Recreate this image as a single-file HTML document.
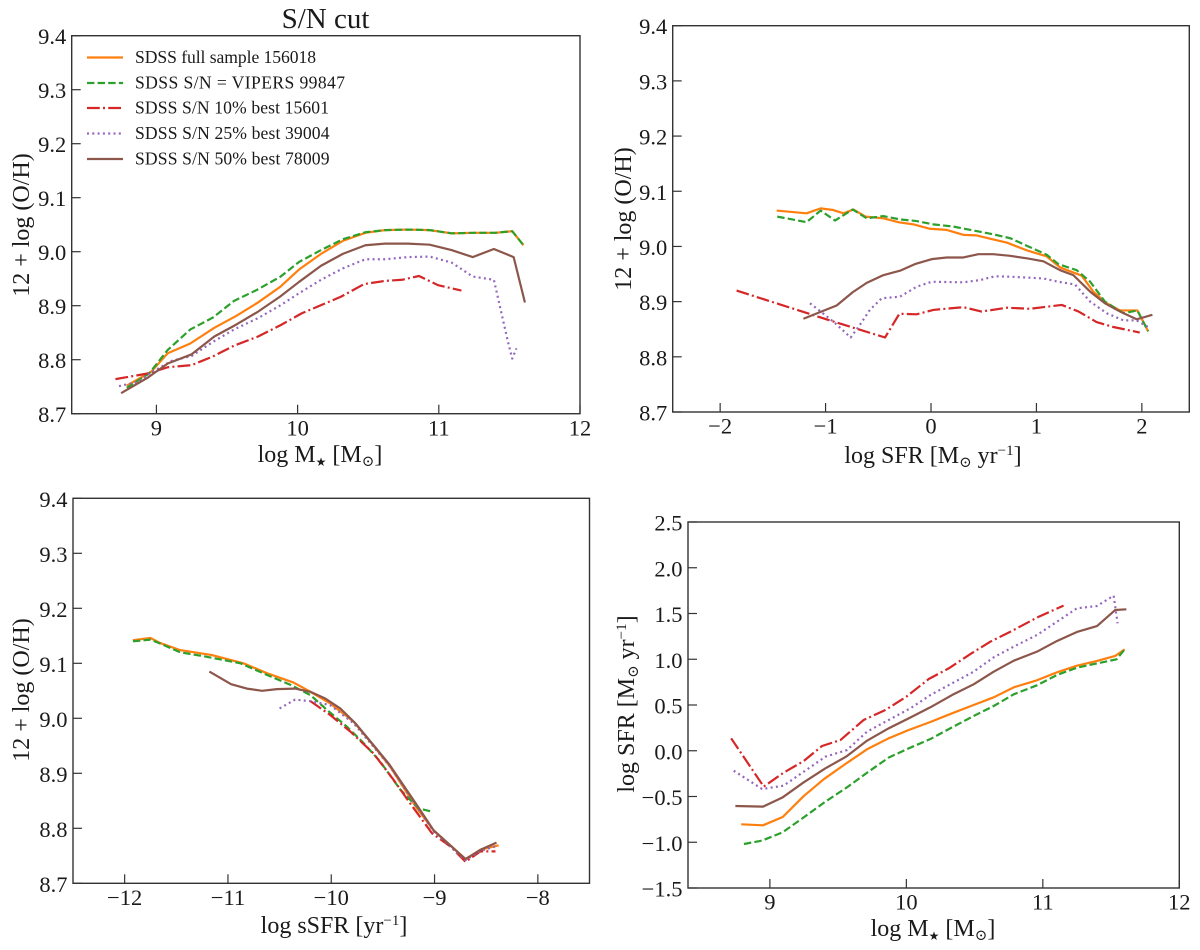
<!DOCTYPE html>
<html lang="en">
<head>
<meta charset="utf-8">
<title>S/N cut</title>
<style>
html,body{margin:0;padding:0;background:#fff;}
#figure{display:block;width:1200px;height:950px;font-family:"Liberation Serif","DejaVu Serif",serif;fill:#1a1a1a;}
.tick-label{font-size:22.5px;}
.axis-label{font-size:24px;text-anchor:middle;}
.legend-text{font-size:17.6px;}
.sub{font-size:15px;}
.sub-star{font-size:12px;}
</style>
</head>
<body>
<svg id="figure" xmlns="http://www.w3.org/2000/svg" width="1200" height="950" viewBox="0 0 1200 950">
  <g id="panel-mass-metal"></g>
  <g id="panel-sfr-metal"></g>
  <g id="panel-ssfr-metal"></g>
  <g id="panel-mass-sfr"></g>

  <text x="325.5" y="28" font-size="29" text-anchor="middle">S/N cut</text>

  <text class="axis-label" x="320" y="462">log M<tspan class="sub-star" dy="4">★</tspan><tspan dy="-4"> [M</tspan><tspan class="sub" dy="4">⊙</tspan><tspan dy="-4">]</tspan></text>
  <text class="axis-label" x="933" y="463">log SFR [M<tspan class="sub" dy="4">⊙</tspan><tspan dy="-4"> yr</tspan><tspan class="sub" dy="-8">−1</tspan><tspan dy="8">]</tspan></text>
  <text class="axis-label" x="334" y="933">log sSFR [yr<tspan class="sub" dy="-8">−1</tspan><tspan dy="8">]</tspan></text>
  <text class="axis-label" x="933" y="936">log M<tspan class="sub-star" dy="4">★</tspan><tspan dy="-4"> [M</tspan><tspan class="sub" dy="4">⊙</tspan><tspan dy="-4">]</tspan></text>

  <text class="axis-label" transform="translate(29 225) rotate(-90)">12 + log (O/H)</text>
  <text class="axis-label" transform="translate(631 219) rotate(-90)">12 + log (O/H)</text>
  <text class="axis-label" transform="translate(29 690) rotate(-90)">12 + log (O/H)</text>
  <text class="axis-label" transform="translate(634 704) rotate(-90)">log SFR [M<tspan class="sub" dy="4">⊙</tspan><tspan dy="-4"> yr</tspan><tspan class="sub" dy="-8">−1</tspan><tspan dy="8">]</tspan></text>

  <g>
    <g>
      <line x1="87" x2="123" y1="57.5" y2="57.5" stroke="#ff7f0e" stroke-width="2.2"/>
      <text class="legend-text" x="135" y="63" textLength="181" lengthAdjust="spacing">SDSS full sample 156018</text>
    </g>
    <g>
      <line x1="87" x2="123" y1="83" y2="83" stroke="#2ca02c" stroke-width="2.2" stroke-dasharray="7.4 3.2"/>
      <text class="legend-text" x="135" y="88.5" textLength="210" lengthAdjust="spacing">SDSS S/N = VIPERS 99847</text>
    </g>
    <g>
      <line x1="87" x2="123" y1="108" y2="108" stroke="#d62728" stroke-width="2.2" stroke-dasharray="12.8 3.2 2 3.2"/>
      <text class="legend-text" x="135" y="113.5" textLength="194" lengthAdjust="spacing">SDSS S/N 10% best 15601</text>
    </g>
    <g>
      <line x1="87" x2="123" y1="133.5" y2="133.5" stroke="#9467bd" stroke-width="2.2" stroke-dasharray="2 3.3"/>
      <text class="legend-text" x="135" y="139" textLength="194.5" lengthAdjust="spacing">SDSS S/N 25% best 39004</text>
    </g>
    <g>
      <line x1="87" x2="123" y1="159" y2="159" stroke="#8c564b" stroke-width="2.2"/>
      <text class="legend-text" x="135" y="164.5" textLength="194.5" lengthAdjust="spacing">SDSS S/N 50% best 78009</text>
    </g>
  </g>
</svg>

<script>
// ---- Panel 1: log M* vs metallicity ----
const massFullX = [8.79,8.964,9.08,9.24,9.41,9.565,9.72,9.877,10.01,10.166,10.32,10.48,10.62,10.78,10.935,11.09,11.25,11.40,11.52,11.6];
const massFullY = [8.752,8.778,8.812,8.830,8.859,8.881,8.906,8.935,8.967,8.996,9.02,9.035,9.04,9.041,9.04,9.034,9.035,9.035,9.038,9.012];
const massVipersX = [8.79,8.95,9.08,9.24,9.40,9.55,9.71,9.88,10.01,10.166,10.32,10.48,10.62,10.78,10.935,11.09,11.25,11.40,11.52,11.6];
const massVipersY = [8.748,8.775,8.818,8.856,8.878,8.909,8.929,8.954,8.981,9.003,9.023,9.036,9.04,9.041,9.04,9.034,9.035,9.035,9.038,9.012];
const massBest10X = [8.71,8.95,9.08,9.25,9.40,9.55,9.72,9.88,10.03,10.166,10.31,10.47,10.62,10.74,10.86,10.995,11.16];
const massBest10Y = [8.764,8.775,8.786,8.79,8.806,8.826,8.843,8.864,8.886,8.901,8.917,8.94,8.946,8.948,8.955,8.938,8.928];
const massBest25X = [8.735,8.87,8.96,9.11,9.25,9.40,9.55,9.72,9.88,10.01,10.166,10.32,10.48,10.62,10.78,10.935,11.09,11.24,11.39,11.49,11.52,11.55];
const massBest25Y = [8.751,8.759,8.776,8.798,8.807,8.833,8.856,8.877,8.901,8.923,8.948,8.969,8.986,8.986,8.99,8.991,8.98,8.954,8.948,8.833,8.802,8.821];
const massBest50X = [8.75,8.94,9.08,9.25,9.41,9.565,9.72,9.877,10.01,10.166,10.32,10.48,10.62,10.78,10.935,11.09,11.24,11.39,11.53,11.61];
const massBest50Y = [8.738,8.767,8.793,8.81,8.843,8.865,8.889,8.917,8.944,8.974,8.996,9.012,9.015,9.015,9.013,9.003,8.99,9.005,8.99,8.906];

// ---- Panel 2: log SFR vs metallicity ----
const sfrFullX = [-1.464,-1.18,-1.047,-0.927,-0.83,-0.737,-0.62,-0.452,-0.31,-0.168,-0.01,0.149,0.307,0.433,0.56,0.718,0.923,1.097,1.224,1.43,1.54,1.667,1.793,1.958,2.06];
const sfrFullY = [9.065,9.06,9.069,9.066,9.06,9.067,9.054,9.051,9.044,9.04,9.032,9.03,9.021,9.02,9.014,9.007,8.992,8.982,8.962,8.947,8.918,8.897,8.884,8.884,8.846];
const sfrVipersX = [-1.458,-1.18,-1.047,-0.91,-0.743,-0.61,-0.452,-0.294,-0.136,0.022,0.212,0.40,0.59,0.75,0.923,1.097,1.208,1.382,1.51,1.65,1.825,1.958,2.06];
const sfrVipersY = [9.054,9.044,9.065,9.047,9.067,9.051,9.055,9.049,9.046,9.04,9.036,9.029,9.022,9.015,9.0,8.985,8.968,8.957,8.936,8.9,8.879,8.884,8.846];
const sfrBest10X = [-1.844,-1.433,-0.927,-0.436,-0.30,-0.136,0.022,0.307,0.48,0.718,0.94,1.24,1.40,1.57,1.73,1.98];
const sfrBest10Y = [8.92,8.895,8.864,8.835,8.878,8.877,8.885,8.89,8.882,8.889,8.887,8.894,8.882,8.863,8.854,8.844];
const sfrBest25X = [-1.148,-1.006,-0.91,-0.762,-0.674,-0.58,-0.468,-0.294,-0.136,0.006,0.307,0.465,0.607,0.765,1.066,1.208,1.366,1.51,1.667,1.825,1.95,2.078];
const sfrBest25Y = [8.897,8.876,8.861,8.835,8.858,8.885,8.906,8.909,8.927,8.936,8.935,8.939,8.946,8.945,8.942,8.936,8.931,8.9,8.879,8.866,8.866,8.852];
const sfrBest50X = [-1.21,-0.895,-0.743,-0.61,-0.452,-0.294,-0.152,0.006,0.149,0.307,0.449,0.59,0.75,0.923,1.066,1.224,1.35,1.51,1.65,1.793,1.95,2.10];
const sfrBest50Y = [8.869,8.893,8.917,8.934,8.948,8.956,8.968,8.977,8.98,8.98,8.986,8.986,8.983,8.978,8.973,8.957,8.948,8.918,8.897,8.882,8.868,8.876];

// ---- Panel 3: log sSFR vs metallicity ----
const ssfrFullX = [-11.92,-11.75,-11.657,-11.463,-11.156,-10.85,-10.623,-10.365,-10.2,-10.01,-9.784,-9.59,-9.43,-9.17,-9.008,-8.7,-8.556,-8.38];
const ssfrFullY = [9.142,9.146,9.137,9.124,9.115,9.1,9.082,9.065,9.048,9.027,8.994,8.95,8.912,8.836,8.796,8.744,8.761,8.769];
const ssfrVipersX = [-11.92,-11.75,-11.657,-11.463,-11.237,-10.88,-10.623,-10.397,-10.2,-10.04,-9.85,-9.687,-9.525,-9.33,-9.154,-9.015];
const ssfrVipersY = [9.14,9.143,9.136,9.12,9.113,9.1,9.079,9.061,9.042,9.015,8.985,8.955,8.921,8.87,8.836,8.83];
const ssfrBest10X = [-10.2,-10.01,-9.816,-9.59,-9.396,-9.235,-9.025,-8.847,-8.7,-8.556,-8.41];
const ssfrBest10Y = [9.031,9.006,8.976,8.936,8.888,8.845,8.791,8.767,8.739,8.758,8.758];
const ssfrBest25X = [-10.5,-10.35,-10.2,-10.01,-9.784,-9.59,-9.43,-9.17,-9.008,-8.7,-8.556,-8.41];
const ssfrBest25Y = [9.018,9.034,9.031,9.024,8.991,8.948,8.912,8.839,8.794,8.742,8.759,8.767];
const ssfrBest50X = [-11.18,-10.97,-10.817,-10.67,-10.526,-10.35,-10.2,-10.058,-9.913,-9.767,-9.59,-9.445,-9.17,-9.008,-8.7,-8.556,-8.4];
const ssfrBest50Y = [9.085,9.062,9.054,9.05,9.053,9.054,9.048,9.036,9.018,8.991,8.951,8.918,8.842,8.796,8.744,8.761,8.774];

// ---- Panel 4: log M* vs log SFR ----
const msFullX = [8.79,8.95,9.094,9.248,9.394,9.553,9.712,9.87,10.017,10.176,10.335,10.493,10.64,10.787,10.957,11.104,11.25,11.397,11.53,11.6];
const msFullY = [-0.804,-0.815,-0.724,-0.495,-0.312,-0.145,0.016,0.136,0.227,0.314,0.409,0.5,0.584,0.693,0.77,0.857,0.93,0.981,1.036,1.108];
const msVipersX = [8.81,8.943,9.094,9.248,9.407,9.565,9.712,9.87,10.017,10.176,10.335,10.493,10.64,10.787,10.957,11.104,11.25,11.397,11.54,11.6];
const msVipersY = [-1.019,-0.982,-0.891,-0.728,-0.556,-0.4,-0.24,-0.075,0.026,0.128,0.256,0.38,0.489,0.617,0.715,0.828,0.908,0.955,0.999,1.108];
const msBest10X = [8.716,8.955,9.1,9.248,9.382,9.517,9.687,9.846,10.0,10.164,10.31,10.469,10.615,10.762,10.97,11.152];
const msBest10Y = [0.136,-0.392,-0.24,-0.112,0.052,0.117,0.336,0.445,0.591,0.784,0.9,1.057,1.192,1.301,1.465,1.586];
const msBest25X = [8.735,8.943,9.1,9.248,9.407,9.565,9.712,9.87,10.03,10.176,10.335,10.493,10.64,10.787,10.957,11.104,11.25,11.397,11.519,11.548];
const msBest25Y = [-0.218,-0.418,-0.382,-0.229,-0.065,0.008,0.209,0.336,0.464,0.609,0.737,0.864,1.021,1.138,1.265,1.411,1.557,1.582,1.695,1.393];
const msBest50X = [8.747,8.95,9.094,9.248,9.407,9.558,9.712,9.87,10.017,10.176,10.335,10.493,10.64,10.787,10.957,11.104,11.25,11.397,11.53,11.612];
const msBest50Y = [-0.604,-0.611,-0.509,-0.345,-0.192,-0.065,0.11,0.245,0.354,0.475,0.609,0.726,0.864,0.984,1.083,1.2,1.298,1.363,1.538,1.546];

// ---- Tick values ----
const metalTicks = [8.7,8.8,8.9,9.0,9.1,9.2,9.3,9.4];
const sfrTicks = [-1.5,-1.0,-0.5,0.0,0.5,1.0,1.5,2.0,2.5];
const massTicks = [9,10,11,12];
const sfrXTicks = [-2,-1,0,1,2];
const ssfrTicks = [-12,-11,-10,-9,-8];

// ---- Series names ----
const seriesNames = ['full-sample','vipers-sn','best-10-percent','best-25-percent','best-50-percent'];

const NS = 'http://www.w3.org/2000/svg';
const seriesColors = ['#ff7f0e','#2ca02c','#d62728','#9467bd','#8c564b'];
const seriesDashes = ['', '7.4 3.2', '12.8 3.2 2 3.2', '2 3.3', ''];

function fmt(v, decimals) {
  return v.toFixed(decimals).replace('-', '\u2212');
}

function drawPanel(cfg) {
  const g = document.getElementById(cfg.id);
  const sx = v => cfg.left + (v - cfg.xMin) / (cfg.xMax - cfg.xMin) * (cfg.right - cfg.left);
  const sy = v => cfg.bottom - (v - cfg.yMin) / (cfg.yMax - cfg.yMin) * (cfg.bottom - cfg.top);

  cfg.series.forEach(function (s, i) {
    const path = document.createElementNS(NS, 'path');
    
    
    const d = s[0].map((x, k) => (k ? 'L' : 'M') + sx(x).toFixed(2) + ' ' + sy(s[1][k]).toFixed(2)).join(' ');
    path.setAttribute('d', d);
    path.setAttribute('fill', 'none');
    path.setAttribute('stroke', seriesColors[i]);
    path.setAttribute('stroke-width', '2.2');
    path.setAttribute('stroke-linejoin', 'round');
    if (seriesDashes[i]) path.setAttribute('stroke-dasharray', seriesDashes[i]);
    g.appendChild(path);
  });

  cfg.xTicks.forEach(function (v) {
    const t = document.createElementNS(NS, 'line');
    
    
    t.setAttribute('x1', sx(v));
    t.setAttribute('x2', sx(v));
    t.setAttribute('y1', cfg.bottom);
    t.setAttribute('y2', cfg.bottom - 9);
    t.setAttribute('stroke', '#333');
    t.setAttribute('stroke-width', '1.2');
    g.appendChild(t);
    const l = document.createElementNS(NS, 'text');
    
    
    l.setAttribute('class', 'tick-label');
    l.setAttribute('x', sx(v));
    l.setAttribute('y', cfg.bottom + 21.7);
    l.setAttribute('text-anchor', 'middle');
    l.textContent = fmt(v, 0);
    g.appendChild(l);
  });

  cfg.yTicks.forEach(function (v) {
    const t = document.createElementNS(NS, 'line');
    
    
    t.setAttribute('x1', cfg.left);
    t.setAttribute('x2', cfg.left + 9);
    t.setAttribute('y1', sy(v));
    t.setAttribute('y2', sy(v));
    t.setAttribute('stroke', '#333');
    t.setAttribute('stroke-width', '1.2');
    g.appendChild(t);
    const l = document.createElementNS(NS, 'text');
    
    
    l.setAttribute('class', 'tick-label');
    l.setAttribute('x', cfg.left - 5.5);
    l.setAttribute('y', sy(v) + 8.5);
    l.setAttribute('text-anchor', 'end');
    l.textContent = fmt(v, 1);
    g.appendChild(l);
  });

  const frame = document.createElementNS(NS, 'rect');
  
  
  frame.setAttribute('x', cfg.left);
  frame.setAttribute('y', cfg.top);
  frame.setAttribute('width', cfg.right - cfg.left);
  frame.setAttribute('height', cfg.bottom - cfg.top);
  frame.setAttribute('fill', 'none');
  frame.setAttribute('stroke', '#333');
  frame.setAttribute('stroke-width', '1.4');
  g.appendChild(frame);
}

drawPanel({
  id: 'panel-mass-metal', left: 71.7, right: 580, top: 35.7, bottom: 413.7,
  xMin: 8.4, xMax: 12, yMin: 8.7, yMax: 9.4, xTicks: massTicks, yTicks: metalTicks,
  series: [[massFullX,massFullY],[massVipersX,massVipersY],[massBest10X,massBest10Y],[massBest25X,massBest25Y],[massBest50X,massBest50Y]]
});
drawPanel({
  id: 'panel-sfr-metal', left: 672.7, right: 1189.3, top: 25.7, bottom: 412,
  xMin: -2.45, xMax: 2.45, yMin: 8.7, yMax: 9.4, xTicks: sfrXTicks, yTicks: metalTicks,
  series: [[sfrFullX,sfrFullY],[sfrVipersX,sfrVipersY],[sfrBest10X,sfrBest10Y],[sfrBest25X,sfrBest25Y],[sfrBest50X,sfrBest50Y]]
});
drawPanel({
  id: 'panel-ssfr-metal', left: 73, right: 589.5, top: 498.3, bottom: 883.3,
  xMin: -12.5, xMax: -7.5, yMin: 8.7, yMax: 9.4, xTicks: ssfrTicks, yTicks: metalTicks,
  series: [[ssfrFullX,ssfrFullY],[ssfrVipersX,ssfrVipersY],[ssfrBest10X,ssfrBest10Y],[ssfrBest25X,ssfrBest25Y],[ssfrBest50X,ssfrBest50Y]]
});
drawPanel({
  id: 'panel-mass-sfr', left: 688, right: 1179.3, top: 522, bottom: 888,
  xMin: 8.4, xMax: 12, yMin: -1.5, yMax: 2.5, xTicks: massTicks, yTicks: sfrTicks,
  series: [[msFullX,msFullY],[msVipersX,msVipersY],[msBest10X,msBest10Y],[msBest25X,msBest25Y],[msBest50X,msBest50Y]]
});
</script>
</body>
</html>
